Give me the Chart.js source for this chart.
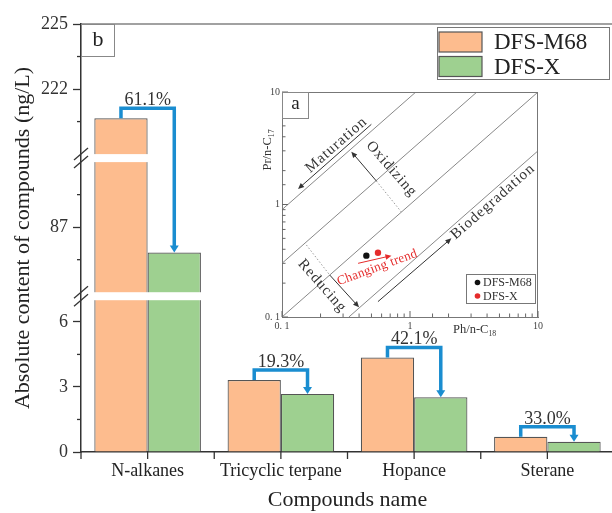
<!DOCTYPE html>
<html>
<head>
<meta charset="utf-8">
<script src="https://cdn.jsdelivr.net/npm/chart.js@4/dist/chart.umd.min.js"></script>
<style>
  html, body { margin: 0; padding: 0; background: #fff; }
  #wrap { position: relative; width: 612px; height: 513px; overflow: hidden; background: #fff; }
  #main { position: absolute; left: 0; top: 0; }
  #inset { position: absolute; left: 240px; top: 80px; }
</style>
</head>
<body>
<div id="wrap">
  <canvas id="main" width="620" height="513"></canvas>
  <canvas id="inset" width="310" height="262"></canvas>
</div>
<script>
// ---- Panel b: absolute content of compounds (ng/L) ----
const categories = ['N-alkanes', 'Tricyclic terpane', 'Hopance', 'Sterane'];
const seriesNames = ['DFS-M68', 'DFS-X'];
const m68Values = [220.65, 3.32, 4.36, 0.70];
const dfsxValues = [85.83, 2.68, 2.52, 0.47];
const decreaseLabels = ['61.1%', '19.3%', '42.1%', '33.0%'];

// broken value axis: three visible ranges
const axisSegments = [[0, 7], [84, 90], [219, 225]];
const majorTicks = [0, 3, 6, 87, 222, 225];
const minorTicks = [1.5, 4.5, 85.5, 88.5, 220.5, 223.5];

// ---- Panel a: Pr/n-C17 vs Ph/n-C18 ----
const m68Ratios = [{ x: 0.456, y: 0.351 }];
const dfsxRatios = [{ x: 0.562, y: 0.373 }];
const guideLines = [
  [{ x: 0.1, y: 0.9 }, { x: 1.111, y: 10 }],
  [{ x: 0.1, y: 0.3 }, { x: 3.333, y: 10 }],
  [{ x: 0.1, y: 0.1 }, { x: 10, y: 10 }],
  [{ x: 0.333, y: 0.1 }, { x: 10, y: 3 }]
];

const SERIF = "'Liberation Serif', 'Times New Roman', serif";
const ORANGE = '#FDBC8E';
const GREEN = '#9ED090';
const BLUE = '#1A8DD0';
const RED = '#E52B2B';
const BREAK_GAP = 8;

// Linear scale with two breaks; every segment uses the same units-per-pixel.
class BrokenScale extends Chart.LinearScale {
  determineDataLimits() {
    this.min = axisSegments[0][0];
    this.max = axisSegments[axisSegments.length - 1][1];
  }
  buildTicks() {
    const all = majorTicks.map(v => ({ value: v, major: true }))
      .concat(minorTicks.map(v => ({ value: v, major: false })));
    return all.sort((a, b) => a.value - b.value);
  }
  _unitPx() {
    const units = axisSegments.reduce((s, r) => s + (r[1] - r[0]), 0);
    return (this.bottom - this.top - BREAK_GAP * (axisSegments.length - 1)) / units;
  }
  getPixelForValue(value) {
    const per = this._unitPx();
    let y = this.bottom;
    for (let i = 0; i < axisSegments.length; i++) {
      const [lo, hi] = axisSegments[i];
      if (value < lo) return y + BREAK_GAP / 2;
      if (value <= hi || i === axisSegments.length - 1) return y - (value - lo) * per;
      y -= (hi - lo) * per + BREAK_GAP;
    }
    return y;
  }
  getValueForPixel(pixel) {
    const per = this._unitPx();
    let y = this.bottom;
    for (let i = 0; i < axisSegments.length; i++) {
      const [lo, hi] = axisSegments[i];
      const top = y - (hi - lo) * per;
      if (pixel >= top || i === axisSegments.length - 1) return lo + (y - pixel) / per;
      y = top - BREAK_GAP;
    }
    return this.max;
  }
  breakBands() {
    const per = this._unitPx();
    const bands = [];
    let y = this.bottom;
    for (let i = 0; i < axisSegments.length - 1; i++) {
      y -= (axisSegments[i][1] - axisSegments[i][0]) * per;
      bands.push([y - BREAK_GAP, y]);
      y -= BREAK_GAP;
    }
    return bands;
  }
}
BrokenScale.id = 'broken';
BrokenScale.defaults = Chart.LinearScale.defaults;
Chart.register(BrokenScale);

function line(ctx, x1, y1, x2, y2) {
  ctx.beginPath(); ctx.moveTo(x1, y1); ctx.lineTo(x2, y2); ctx.stroke();
}

const mainDecor = {
  id: 'mainDecor',
  afterDraw(chart) {
    const { ctx, chartArea: ca, scales: { x, y } } = chart;
    ctx.save();

    // white bands through the bars at each axis break
    ctx.fillStyle = '#fff';
    const bands = y.breakBands();
    bands.forEach(([t, b]) => ctx.fillRect(ca.left + 1, t, ca.right - ca.left - 1, b - t));

    // break marks on the value axis
    ctx.strokeStyle = '#333';
    ctx.lineWidth = 1.3;
    bands.forEach(([t, b]) => {
      const yc = (t + b) / 2;
      [-4, 4].forEach(off => line(ctx, ca.left - 7, yc + off + 6, ca.left + 7, yc + off - 6));
    });

    // frame (top and right)
    ctx.strokeStyle = '#444';
    ctx.lineWidth = 1.2;
    line(ctx, ca.left, ca.top, ca.right, ca.top);
    line(ctx, ca.right, ca.top, ca.right, ca.bottom);

    // minor ticks on value axis
    ctx.strokeStyle = '#333';
    ctx.lineWidth = 1.3;
    minorTicks.forEach(v => {
      const py = y.getPixelForValue(v);
      line(ctx, ca.left - 4, py, ca.left, py);
    });

    // category ticks at centres and boundaries
    const n = categories.length;
    const w = (ca.right - ca.left) / n;
    for (let i = 0; i <= 2 * n; i++) {
      const px = ca.left + i * w / 2;
      line(ctx, px, ca.bottom, px, ca.bottom + 7);
    }

    // decrease brackets
    const m0 = chart.getDatasetMeta(0).data;
    const m1 = chart.getDatasetMeta(1).data;
    m0.forEach((bar, i) => {
      const x1 = bar.x, y1 = bar.y;
      const x2 = m1[i].x, y2 = m1[i].y;
      const yTop = y1 - 10;
      ctx.strokeStyle = BLUE;
      ctx.fillStyle = BLUE;
      ctx.lineWidth = 3.5;
      ctx.lineJoin = 'miter';
      ctx.beginPath();
      ctx.moveTo(x1, y1);
      ctx.lineTo(x1, yTop);
      ctx.lineTo(x2, yTop);
      ctx.lineTo(x2, y2 - 6);
      ctx.stroke();
      ctx.beginPath();
      ctx.moveTo(x2 - 4.5, y2 - 7);
      ctx.lineTo(x2 + 4.5, y2 - 7);
      ctx.lineTo(x2, y2);
      ctx.closePath();
      ctx.fill();
      ctx.fillStyle = '#333';
      ctx.font = `18px ${SERIF}`;
      ctx.textAlign = 'center';
      ctx.textBaseline = 'alphabetic';
      ctx.fillText(decreaseLabels[i], (x1 + x2) / 2, yTop - 3);
    });

    // panel letter
    ctx.fillStyle = '#fff';
    ctx.fillRect(ca.left + 0.5, ca.top + 0.5, 33, 32);
    ctx.strokeStyle = '#888';
    ctx.lineWidth = 1;
    ctx.strokeRect(ca.left + 0.5, ca.top + 0.5, 33, 32);
    ctx.fillStyle = '#222';
    ctx.font = `22px ${SERIF}`;
    ctx.textAlign = 'center';
    ctx.textBaseline = 'middle';
    ctx.fillText('b', ca.left + 17, ca.top + 16);

    // legend
    const lx = 437, ly = 27, lw = 172, lh = 52;
    ctx.fillStyle = '#fff';
    ctx.fillRect(lx, ly, lw, lh);
    ctx.strokeStyle = '#777';
    ctx.strokeRect(lx + 0.5, ly + 0.5, lw, lh);
    chart.data.datasets.forEach((ds, i) => {
      const sy = ly + 5 + i * 24.5;
      ctx.fillStyle = ds.backgroundColor;
      ctx.fillRect(lx + 2, sy, 43, 20);
      ctx.strokeStyle = '#555';
      ctx.lineWidth = 1.2;
      ctx.strokeRect(lx + 2, sy, 43, 20);
      ctx.fillStyle = '#222';
      ctx.font = `23px ${SERIF}`;
      ctx.textAlign = 'left';
      ctx.textBaseline = 'middle';
      ctx.fillText(ds.label, lx + 57, sy + 11);
    });
    ctx.restore();
  }
};

new Chart(document.getElementById('main'), {
  type: 'bar',
  data: {
    labels: categories,
    datasets: [
      { label: seriesNames[0], data: m68Values, backgroundColor: ORANGE, borderColor: '#555', borderWidth: 1.2 },
      { label: seriesNames[1], data: dfsxValues, backgroundColor: GREEN, borderColor: '#555', borderWidth: 1.2 }
    ]
  },
  options: {
    responsive: false,
    devicePixelRatio: 1,
    animation: false,
    layout: { padding: { top: 24, right: 6, left: 0, bottom: 0 } },
    datasets: { bar: { categoryPercentage: 0.8, barPercentage: 1.0 } },
    plugins: { legend: { display: false }, tooltip: { enabled: false } },
    scales: {
      x: {
        type: 'category',
        grid: { drawOnChartArea: false, tickLength: 7, tickColor: 'rgba(0,0,0,0)' },
        border: { color: '#333', width: 1.5 },
        ticks: { font: { family: SERIF, size: 18 }, color: '#222', padding: 1, maxRotation: 0, autoSkip: false },
        title: { display: true, text: 'Compounds name', font: { family: SERIF, size: 22 }, color: '#222', padding: { top: 0, bottom: 0 } },
        afterFit(s) { s.height = 61; }
      },
      y: {
        type: 'broken',
        grid: {
          drawOnChartArea: false, tickLength: 8, tickWidth: 1.3,
          tickColor: c => (c.tick && c.tick.major ? '#333' : 'rgba(0,0,0,0)')
        },
        border: { color: '#333', width: 1.5 },
        ticks: {
          autoSkip: false, font: { family: SERIF, size: 18 }, color: '#333', padding: 5,
          callback: v => (majorTicks.includes(v) ? String(v) : '')
        },
        title: { display: true, text: 'Absolute content of compounds (ng/L)', font: { family: SERIF, size: 22 }, color: '#222', padding: { top: 10, bottom: 0 } },
        afterFit(s) { s.width = 81; }
      }
    }
  },
  plugins: [mainDecor]
});

// ---- inset ----
const insetArrows = [
  { from: [0.499, 5.16], to: [0.1334, 1.374] },  // maturation
  { from: [0.546, 1.618], to: [0.348, 2.95] },   // oxidizing
  { from: [0.236, 0.236], to: [0.4, 0.122] },    // reducing
  { from: [0.562, 0.137], to: [2.106, 0.501] }   // biodegradation
];
const insetDotted = [
  [[0.546, 1.618], [0.857, 0.857]],
  [[0.155, 0.437], [0.236, 0.236]]
];
const trendArrow = { from: [0.393, 0.30], to: [0.716, 0.351] };
const insetTexts = [
  { text: 'Maturation', at: [0.266, 3.38], rot: -41.3, size: 15 },
  { text: 'Oxidizing', at: [0.716, 2.07], rot: 48.7, size: 15 },
  { text: 'Reducing', at: [0.206, 0.189], rot: 48.7, size: 15 },
  { text: 'Biodegradation', at: [4.45, 1.06], rot: -41.3, size: 15 },
  { text: 'Changing trend', at: [0.555, 0.275], rot: -20, size: 13, color: RED }
];

function arrow(ctx, x1, y1, x2, y2, color, width, head) {
  const a = Math.atan2(y2 - y1, x2 - x1);
  ctx.strokeStyle = color; ctx.fillStyle = color; ctx.lineWidth = width;
  line(ctx, x1, y1, x2 - Math.cos(a) * head * 0.8, y2 - Math.sin(a) * head * 0.8);
  ctx.beginPath();
  ctx.moveTo(x2, y2);
  ctx.lineTo(x2 - head * Math.cos(a) + head * 0.45 * Math.sin(a), y2 - head * Math.sin(a) - head * 0.45 * Math.cos(a));
  ctx.lineTo(x2 - head * Math.cos(a) - head * 0.45 * Math.sin(a), y2 - head * Math.sin(a) + head * 0.45 * Math.cos(a));
  ctx.closePath();
  ctx.fill();
}

function subText(ctx, base, sub, size) {
  ctx.font = `${size}px ${SERIF}`;
  const w1 = ctx.measureText(base).width;
  ctx.font = `${size * 0.62}px ${SERIF}`;
  const w2 = ctx.measureText(sub).width;
  return { w1, w2, draw(x, y) {
    ctx.font = `${size}px ${SERIF}`;
    ctx.fillText(base, x, y);
    ctx.font = `${size * 0.62}px ${SERIF}`;
    ctx.fillText(sub, x + w1, y + size * 0.28);
  } };
}

const isPow10 = v => Math.abs(Math.log10(v) - Math.round(Math.log10(v))) < 1e-6;

const insetDecor = {
  id: 'insetDecor',
  afterDraw(chart) {
    const { ctx, chartArea: ca, scales: { x, y } } = chart;
    const P = p => [x.getPixelForValue(p[0]), y.getPixelForValue(p[1])];
    ctx.save();

    // top and right frame
    ctx.strokeStyle = '#777';
    ctx.lineWidth = 1;
    line(ctx, ca.left, ca.top + 0.5, ca.right, ca.top + 0.5);
    line(ctx, ca.right - 0.5, ca.top, ca.right - 0.5, ca.bottom);

    // inward ticks
    ctx.strokeStyle = '#666';
    y.ticks.forEach(t => {
      const py = y.getPixelForValue(t.value);
      const len = isPow10(t.value) ? 6 : 3.5;
      line(ctx, ca.left, py, ca.left + len, py);
    });
    x.ticks.forEach(t => {
      const px = x.getPixelForValue(t.value);
      const len = isPow10(t.value) ? 6 : 3.5;
      line(ctx, px, ca.bottom, px, ca.bottom - len);
    });

    // dotted continuations
    ctx.save();
    ctx.strokeStyle = '#999';
    ctx.setLineDash([1.5, 2]);
    ctx.lineWidth = 1;
    insetDotted.forEach(([a, b]) => { const p1 = P(a), p2 = P(b); line(ctx, p1[0], p1[1], p2[0], p2[1]); });
    ctx.restore();

    // process arrows
    insetArrows.forEach(ar => {
      const p1 = P(ar.from), p2 = P(ar.to);
      arrow(ctx, p1[0], p1[1], p2[0], p2[1], '#333', 1, 6);
    });
    const t1 = P(trendArrow.from), t2 = P(trendArrow.to);
    arrow(ctx, t1[0], t1[1], t2[0], t2[1], RED, 1, 6);

    // rotated labels
    insetTexts.forEach(t => {
      const p = P(t.at);
      ctx.save();
      ctx.translate(p[0], p[1]);
      ctx.rotate(t.rot * Math.PI / 180);
      ctx.fillStyle = t.color || '#333';
      ctx.font = `${t.size}px ${SERIF}`;
      ctx.letterSpacing = t.color ? '0.3px' : '1px';
      ctx.textAlign = 'center';
      ctx.textBaseline = 'middle';
      ctx.fillText(t.text, 0, 0);
      ctx.restore();
    });

    // panel letter
    ctx.fillStyle = '#fff';
    ctx.fillRect(ca.left + 0.5, ca.top + 0.5, 26, 26);
    ctx.strokeStyle = '#888';
    ctx.strokeRect(ca.left + 0.5, ca.top + 0.5, 26, 26);
    ctx.fillStyle = '#222';
    ctx.font = `19px ${SERIF}`;
    ctx.textAlign = 'center';
    ctx.textBaseline = 'middle';
    ctx.fillText('a', ca.left + 13.5, ca.top + 12);

    // legend
    const lx = 226, ly = 194, lw = 69, lh = 29;
    ctx.fillStyle = '#fff';
    ctx.fillRect(lx, ly, lw, lh);
    ctx.strokeStyle = '#777';
    ctx.strokeRect(lx + 0.5, ly + 0.5, lw, lh);
    chart.data.datasets.filter(d => d.type === 'scatter').forEach((ds, i) => {
      const cy = ly + 8.5 + i * 13.5;
      ctx.fillStyle = ds.backgroundColor;
      ctx.beginPath(); ctx.arc(lx + 11.5, cy, 2.8, 0, Math.PI * 2); ctx.fill();
      ctx.fillStyle = '#333';
      ctx.font = `12px ${SERIF}`;
      ctx.textAlign = 'left';
      ctx.textBaseline = 'middle';
      ctx.fillText(ds.label, lx + 17, cy + 0.5);
    });

    // axis titles with subscripts
    ctx.fillStyle = '#333';
    ctx.textAlign = 'left';
    ctx.textBaseline = 'middle';
    const xt = subText(ctx, 'Ph/n-C', '18', 12.5);
    xt.draw(213, 250);
    ctx.save();
    ctx.translate(28, 70);
    ctx.rotate(-Math.PI / 2);
    const yt = subText(ctx, 'Pr/n-C', '17', 12.5);
    yt.draw(-(yt.w1 + yt.w2) / 2, 0);
    ctx.restore();

    ctx.restore();
  }
};

const logTickLabel = v => {
  if (!isPow10(v)) return '';
  const r = Math.round(Math.log10(v));
  return r === -1 ? '0. 1' : String(Math.pow(10, r));
};

new Chart(document.getElementById('inset'), {
  type: 'scatter',
  data: {
    datasets: guideLines.map(pts => ({
      type: 'line', data: pts, borderColor: '#888', borderWidth: 1, pointRadius: 0, fill: false
    })).concat([
      { type: 'scatter', label: seriesNames[0], data: m68Ratios, backgroundColor: '#111', borderWidth: 0, pointRadius: 3.2 },
      { type: 'scatter', label: seriesNames[1], data: dfsxRatios, backgroundColor: RED, borderWidth: 0, pointRadius: 3.2 }
    ])
  },
  options: {
    responsive: false,
    devicePixelRatio: 1,
    animation: false,
    layout: { padding: { top: 12, right: 12, left: 0, bottom: 0 } },
    plugins: { legend: { display: false }, tooltip: { enabled: false } },
    scales: {
      x: {
        type: 'logarithmic', min: 0.1, max: 10,
        grid: { drawOnChartArea: false, drawTicks: false },
        border: { color: '#777', width: 1 },
        ticks: { autoSkip: false, maxRotation: 0, padding: 3, font: { family: SERIF, size: 10 }, color: '#444', callback: logTickLabel },
        afterFit(s) { s.height = 25; }
      },
      y: {
        type: 'logarithmic', min: 0.1, max: 10,
        grid: { drawOnChartArea: false, drawTicks: false },
        border: { color: '#777', width: 1 },
        ticks: { autoSkip: false, padding: 2, font: { family: SERIF, size: 10 }, color: '#444', callback: logTickLabel },
        afterFit(s) { s.width = 42; }
      }
    }
  },
  plugins: [insetDecor]
});
</script>
</body>
</html>
